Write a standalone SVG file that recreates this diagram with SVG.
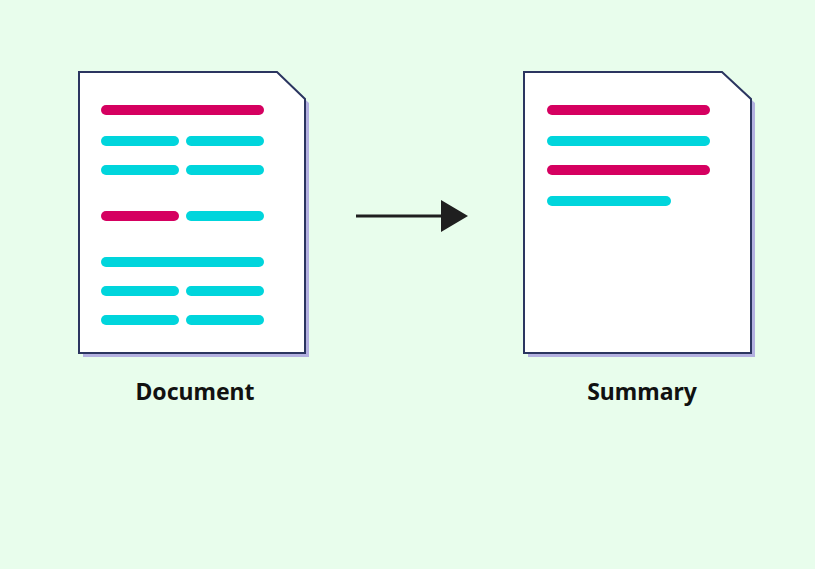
<svg xmlns="http://www.w3.org/2000/svg" width="815" height="569" viewBox="0 0 815 569">
  <style>
    .page { fill: #ffffff; stroke: #2b3560; stroke-width: 2; stroke-linejoin: miter; }
    .shadow { fill: #b3b0e0; }
    .bar { stroke-width: 10; stroke-linecap: round; fill: none; }
    .hi { stroke: #d50060; }
    .lo { stroke: #00d5dc; }
    .label { font-family: "Noto Sans", "Open Sans", sans-serif; font-weight: 700; font-size: 23px; fill: #111111; text-anchor: middle; }
    .conn { stroke: #1f1f1f; stroke-width: 3; fill: none; }
  </style>
  <defs>
    <marker id="head" markerWidth="27" markerHeight="32" refX="0" refY="16" orient="auto" markerUnits="userSpaceOnUse">
      <path d="M0,0 L27,16 L0,32 Z" fill="#1f1f1f"/>
    </marker>
  </defs>
  <rect width="815" height="569" fill="#e8fdec"/>

  <g id="document">
    <path class="shadow" d="M83,76 H280 L309,103 V357 H83 Z"/>
    <path class="page" d="M79,72 H277 L305,99 V353 H79 Z"/>
    <line class="bar hi" x1="106" y1="110" x2="259" y2="110"/>
    <line class="bar lo" x1="106" y1="141" x2="174" y2="141"/>
    <line class="bar lo" x1="191" y1="141" x2="259" y2="141"/>
    <line class="bar lo" x1="106" y1="170" x2="174" y2="170"/>
    <line class="bar lo" x1="191" y1="170" x2="259" y2="170"/>
    <line class="bar hi" x1="106" y1="216" x2="174" y2="216"/>
    <line class="bar lo" x1="191" y1="216" x2="259" y2="216"/>
    <line class="bar lo" x1="106" y1="262" x2="259" y2="262"/>
    <line class="bar lo" x1="106" y1="291" x2="174" y2="291"/>
    <line class="bar lo" x1="191" y1="291" x2="259" y2="291"/>
    <line class="bar lo" x1="106" y1="320" x2="174" y2="320"/>
    <line class="bar lo" x1="191" y1="320" x2="259" y2="320"/>
    <text class="label" x="195" y="400">Document</text>
  </g>

  <g id="summary">
    <path class="shadow" d="M528,76 H726 L755,103 V357 H528 Z"/>
    <path class="page" d="M524,72 H722 L751,99 V353 H524 Z"/>
    <line class="bar hi" x1="552" y1="110" x2="705" y2="110"/>
    <line class="bar lo" x1="552" y1="141" x2="705" y2="141"/>
    <line class="bar hi" x1="552" y1="170" x2="705" y2="170"/>
    <line class="bar lo" x1="552" y1="201" x2="666" y2="201"/>
    <text class="label" x="642" y="400">Summary</text>
  </g>

  <g id="connectors">
    <line class="conn" x1="356" y1="216" x2="441" y2="216" marker-end="url(#head)"/>
  </g>
</svg>
